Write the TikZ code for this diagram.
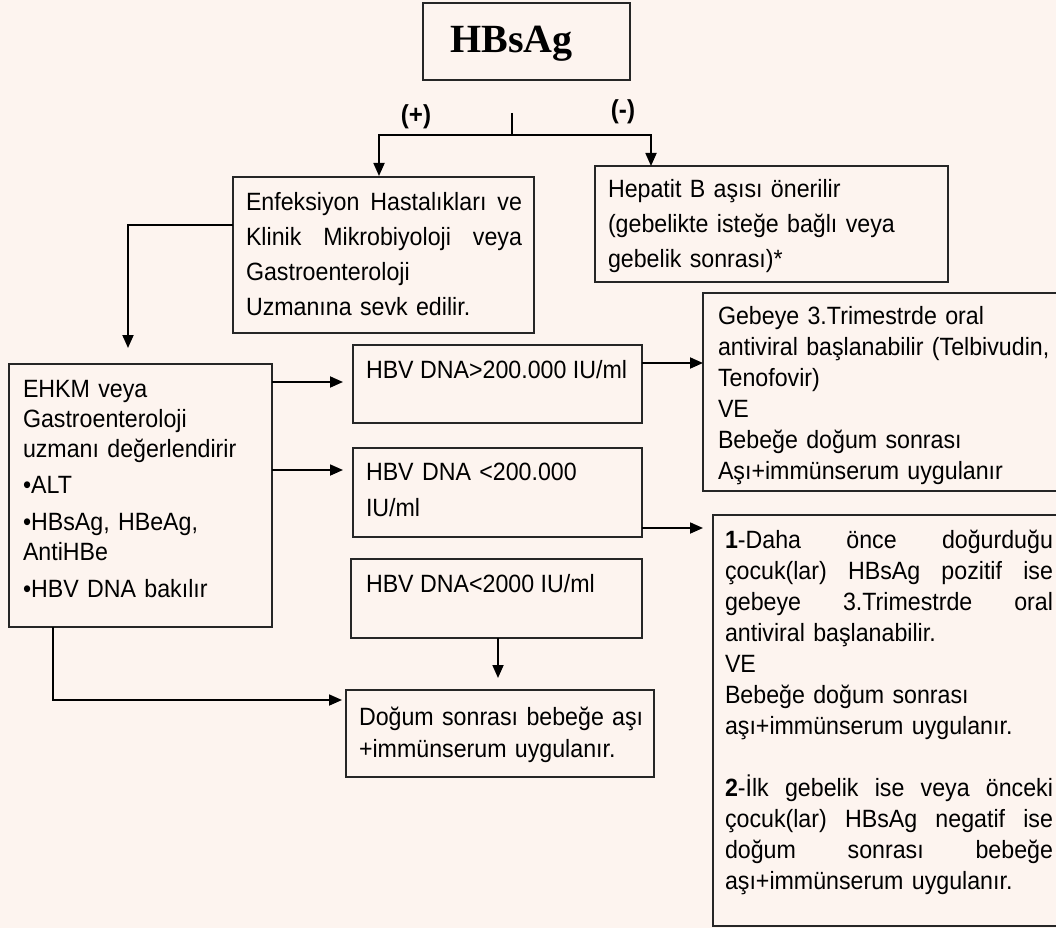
\documentclass[tikz,border=0pt]{standalone}
\usepackage{fontspec}
\setmainfont{Liberation Sans}[FakeStretch=0.928]
\newfontfamily\serifb{Liberation Serif}
\usetikzlibrary{arrows.meta,calc}
\definecolor{bg}{HTML}{FDF4EF}
\definecolor{edge}{HTML}{262626}
\newcommand{\jl}[2]{\leavevmode\hbox to #1{#2}}
\hbadness=10000
\begin{document}
\begin{tikzpicture}[x=1pt,y=-1pt,
  box/.style={draw=edge,line width=1.9pt,inner sep=0pt,outer sep=0pt,anchor=north west},
  txt/.style={anchor=base west,inner sep=0pt,outer sep=0pt,align=left,font=\fontsize{25}{31}\selectfont},
  arr/.style={line width=1.8pt,-{Triangle[length=13pt,width=11pt]}},
  ln/.style={line width=1.8pt}]
\useasboundingbox (0,0) rectangle (1056,928);
\clip (0,0) rectangle (1056,928);
\fill[bg] (0,0) rectangle (1056,928);

% top box
\node[box,line width=2.6pt,minimum width=207pt,minimum height=77pt] (hbs) at (423,3) {};
\node[anchor=base west,inner sep=0pt,font=\serifb\bfseries\fontsize{40}{40}\selectfont] (hbst) at (450,53) {HBsAg};
\node[inner sep=0pt,font=\bfseries\fontsize{26}{26}\selectfont] (plus) at (416,117) {(+)};
\node[inner sep=0pt,font=\bfseries\fontsize{26}{26}\selectfont] (minus) at (623,112) {(-)};

% boxes
\node[box,minimum width=301pt,minimum height=156pt] (enf) at (233,177) {};
\node[txt,text width=276pt,font=\fontsize{25}{35.3}\selectfont] (enft) at (246,210)
  {\jl{276pt}{Enfeksiyon\hfill Hastalıkları\hfill ve}\\ \jl{276pt}{Klinik\hfill Mikrobiyoloji\hfill veya}\\ Gastroenteroloji\\ Uzmanına sevk edilir.};

\node[box,minimum width=353pt,minimum height=116pt] (hep) at (595,166) {};
\node[txt,text width=330pt,font=\fontsize{25}{35}\selectfont] (hept) at (608,197)
  {Hepatit B aşısı önerilir\\ (gebelikte isteğe bağlı veya\\ gebelik sonrası)*};

\node[box,minimum width=263pt,minimum height=263pt] (ehkm) at (9,364) {};
\node[txt,text width=245pt,font=\fontsize{25}{30}\selectfont] (ehkmt) at (23,397)
  {EHKM veya\\ Gastroenteroloji\\ uzmanı değerlendirir\\[6pt] •ALT\\[7pt] •HBsAg, HBeAg,\\ AntiHBe\\[7pt] •HBV DNA bakılır};

\node[box,minimum width=289pt,minimum height=78pt] (hbvA) at (353,345) {};
\node[txt] (hbvAt) at (366,378) {HBV DNA>200.000 IU/ml};

\node[box,minimum width=289pt,minimum height=89pt] (hbvB) at (353,448) {};
\node[txt,text width=270pt,font=\fontsize{25}{36}\selectfont] (hbvBt) at (366,480) {HBV DNA <200.000\\ IU/ml};

\node[box,minimum width=291pt,minimum height=79pt] (hbvC) at (351,559) {};
\node[txt] (hbvCt) at (366,592) {HBV DNA<2000 IU/ml};

\node[box,minimum width=308pt,minimum height=87pt] (dog) at (346,690) {};
\node[txt,text width=290pt,font=\fontsize{25}{32}\selectfont] (dogt) at (359,725)
  {Doğum sonrası bebeğe aşı\\ +immünserum uygulanır.};

\node[box,minimum width=380pt,minimum height=198pt] (geb) at (703,293) {};
\node[txt,text width=345pt] (gebt) at (718,324)
  {Gebeye 3.Trimestrde oral\\ antiviral başlanabilir (Telbivudin,\\ Tenofovir)\\ VE\\ Bebeğe doğum sonrası\\ Aşı+immünserum uygulanır};

\node[box,minimum width=370pt,minimum height=411pt] (one) at (713,515) {};
\node[txt,text width=328pt] (onet) at (725,548)
  {\jl{328pt}{\textbf{1}-Daha\hfill önce\hfill doğurduğu}\\
   \jl{328pt}{çocuk(lar)\hfill HBsAg\hfill pozitif\hfill ise}\\
   \jl{328pt}{gebeye\hfill 3.Trimestrde\hfill oral}\\
   antiviral başlanabilir.\\
   VE\\
   Bebeğe doğum sonrası\\
   aşı+immünserum uygulanır.\\[31pt]
   \jl{328pt}{\textbf{2}-İlk\hfill gebelik\hfill ise\hfill veya\hfill önceki}\\
   \jl{328pt}{çocuk(lar)\hfill HBsAg\hfill negatif\hfill ise}\\
   \jl{328pt}{doğum\hfill sonrası\hfill bebeğe}\\
   aşı+immünserum uygulanır.};

% connectors
\coordinate (stub) at (512,113);
\coordinate (split) at (512,135);
\draw[ln] (stub) -- (split);
\draw[arr,shorten >=1pt] (split) -| ([xshift=146pt]enf.north west);
\draw[arr] (split) -| ([xshift=56pt]hep.north west);
\draw[arr,shorten >=16pt] (enf.west |- 0,225) -| ([xshift=119pt]ehkm.north west);
\draw[arr,shorten >=10pt] (ehkm.east |- 0,382) -- (hbvA.west |- 0,382);
\draw[arr,shorten >=10pt] (ehkm.east |- 0,470) -- (hbvB.west |- 0,470);
\draw[arr] (hbvA.east |- 0,363) -- (geb.west |- 0,363);
\draw[arr,shorten >=10pt] (hbvB.east |- 0,528) -- (one.west |- 0,528);
\draw[arr,shorten >=12pt] (hbvC.south -| 498,0) -- (dog.north -| 498,0);
\draw[arr,shorten >=4pt] (ehkm.south -| 53,0) |- (dog.west |- 0,700);
\end{tikzpicture}
\end{document}
